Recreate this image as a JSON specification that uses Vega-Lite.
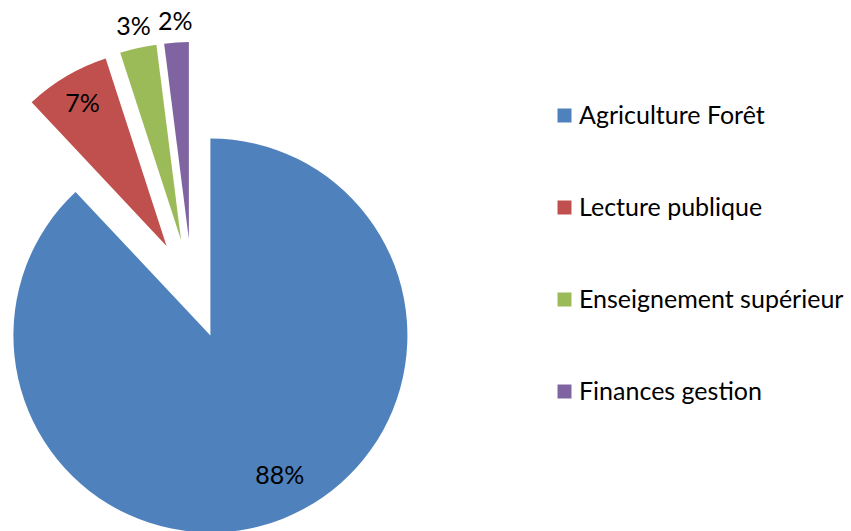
{
  "$schema": "https://vega.github.io/schema/vega-lite/v6.json",
  "width": 384,
  "height": 400,
  "autosize": {"type": "none"},
  "padding": {"left": 0, "top": 89, "right": 467, "bottom": 42},
  "background": "white",
  "config": {"view": {"stroke": null}, "font": "Lato"},
  "data": {
    "values": [
      {"category": "Agriculture Forêt", "value": 0.88},
      {"category": "Lecture publique", "value": 0.07},
      {"category": "Enseignement supérieur", "value": 0.03},
      {"category": "Finances gestion", "value": 0.02}
    ]
  },
  "encoding": {
    "theta": {"field": "value", "type": "quantitative", "stack": true},
    "order": {"field": "value", "sort": "descending"},
    "color": {
      "field": "category",
      "type": "nominal",
      "scale": {
        "domain": ["Agriculture Forêt", "Lecture publique", "Enseignement supérieur", "Finances gestion"],
        "range": ["#4F81BD", "#C0504D", "#9BBB59", "#8064A2"]
      },
      "legend": {
        "title": null,
        "orient": "none",
        "legendX": 552,
        "legendY": 14,
        "padding": 0,
        "symbolType": "square",
        "symbolSize": 196,
        "symbolStrokeWidth": 0,
        "labelFontSize": 25,
        "labelFont": "Lato",
        "labelColor": "#000000",
        "labelOffset": 2,
        "labelLimit": 400,
        "rowPadding": 66
      }
    }
  },
  "layer": [
    {
      "mark": {
        "type": "arc",
        "radius": 197,
        "xOffset": {"expr": "50*sin((scale('theta', datum.value_start)+scale('theta', datum.value_end))/2)"},
        "yOffset": {"expr": "-50*cos((scale('theta', datum.value_start)+scale('theta', datum.value_end))/2)"}
      }
    },
    {
      "mark": {
        "type": "text",
        "fontSize": 25,
        "font": "Lato",
        "radius": {"expr": "datum.value > 0.5 ? 157 : (datum.value > 0.05 ? 165 : 218)"},
        "thetaOffset": {"expr": "datum.value > 0.5 ? -0.08 : 0"},
        "xOffset": {"expr": "50*sin((scale('theta', datum.value_start)+scale('theta', datum.value_end))/2)"},
        "yOffset": {"expr": "-50*cos((scale('theta', datum.value_start)+scale('theta', datum.value_end))/2)"}
      },
      "encoding": {
        "text": {"field": "value", "type": "quantitative", "format": ".0%"},
        "color": {"value": "#000000"}
      }
    }
  ]
}
